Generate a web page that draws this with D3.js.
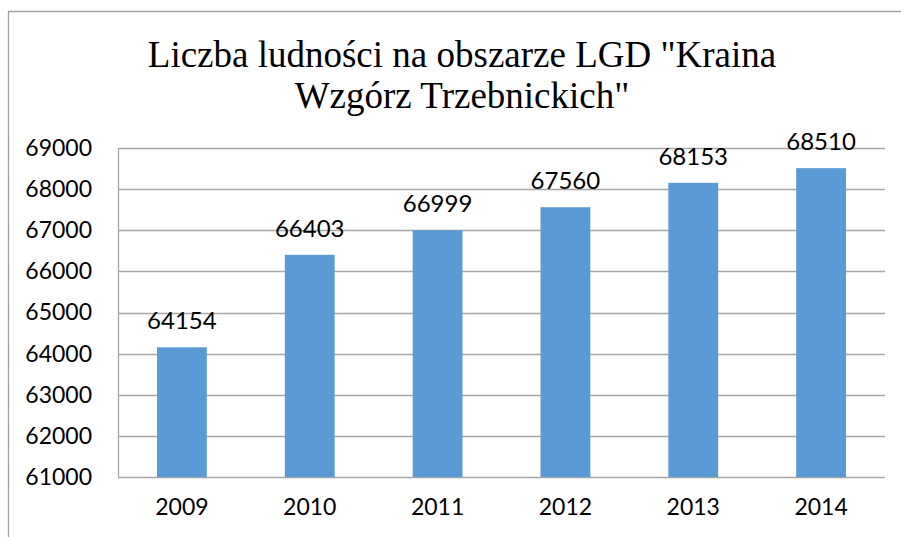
<!DOCTYPE html>
<html><head><meta charset="utf-8">
<script src="https://cdn.jsdelivr.net/npm/d3@7"></script>
<style>body{margin:0;background:#fff}svg{display:block}</style>
</head><body>
<script>
const years = ["2009","2010","2011","2012","2013","2014"];
const population = [64154, 66403, 66999, 67560, 68153, 68510];
const yTicks = [61000,62000,63000,64000,65000,66000,67000,68000,69000];
const titleLines = ['Liczba ludności na obszarze LGD "Kraina', 'Wzgórz Trzebnickich"'];

const W = 901, H = 537;
const margin = {left:118, right:16, top:148, bottom:60};
const svg = d3.select("body").append("svg").attr("width",W).attr("height",H);

// outer border
svg.append("path").attr("d","M8.5,537 V11.5 H901").attr("fill","none").attr("stroke","#a0a0a0").attr("stroke-width",1.3);

const x = d3.scaleBand().domain(years).range([margin.left, W-margin.right]).paddingInner(0.61).paddingOuter(0.305);
const y = d3.scaleLinear().domain([61000,69000]).range([H-margin.bottom, margin.top]);

const tickFont = "Lato, 'Open Sans', sans-serif";

// grid
svg.append("g").selectAll("line").data(yTicks).join("line")
  .attr("x1",margin.left).attr("x2",W-margin.right)
  .attr("y1",d=>Math.round(y(d))+0.5).attr("y2",d=>Math.round(y(d))+0.5)
  .attr("stroke","#a6a6a6").attr("stroke-width",1.3);
svg.append("line").attr("x1",margin.left+0.5).attr("x2",margin.left+0.5)
  .attr("y1",y(69000)).attr("y2",y(61000)).attr("stroke","#a6a6a6").attr("stroke-width",1.3);

// y axis labels
const yAxis = d3.axisLeft(y).tickValues(yTicks).tickFormat(d3.format("d")).tickSize(0).tickPadding(26);
const ga = svg.append("g").attr("transform",`translate(${margin.left},0)`).call(yAxis);
ga.select(".domain").remove();
ga.selectAll("text").attr("font-family",tickFont).attr("font-size",23).attr("fill","#000");

// bars
svg.append("g").selectAll("rect").data(years).join("rect")
  .attr("x",d=>x(d)).attr("width",x.bandwidth())
  .attr("y",(d,i)=>y(population[i])).attr("height",(d,i)=>y(61000)-y(population[i]))
  .attr("fill","#5b9bd5");

// data labels
svg.append("g").selectAll("text").data(years).join("text")
  .attr("x",d=>x(d)+x.bandwidth()/2).attr("y",(d,i)=>y(population[i])-18)
  .attr("text-anchor","middle").attr("font-family",tickFont).attr("font-size",24)
  .text((d,i)=>population[i]);

// x axis labels
const xAxis = d3.axisBottom(x).tickSize(0).tickPadding(22);
const gx = svg.append("g").attr("transform",`translate(0,${y(61000)})`).call(xAxis);
gx.select(".domain").remove();
gx.selectAll("text").attr("font-family",tickFont).attr("font-size",23).attr("fill","#000");

// title
svg.append("g").selectAll("text").data(titleLines).join("text")
  .attr("x",462).attr("y",(d,i)=>67+i*41)
  .attr("text-anchor","middle").attr("font-family","'Liberation Serif', 'Times New Roman', serif")
  .attr("font-size",37).text(d=>d);
</script>
</body></html>
